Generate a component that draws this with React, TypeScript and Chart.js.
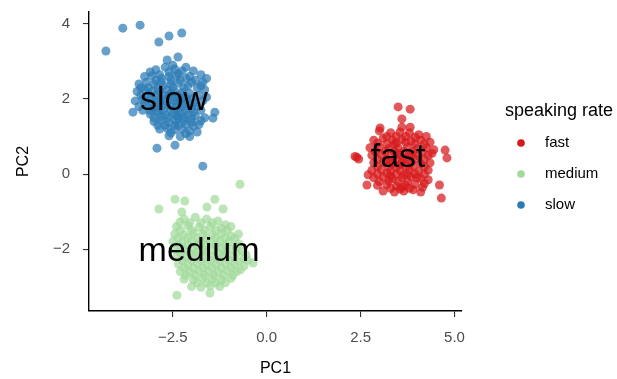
import { useEffect, useRef } from "react";
import { Chart, registerables } from "chart.js";

Chart.register(...registerables);

const categories = ["fast", "medium", "slow"];
const seriesColors = ["#d7191c", "#a1d99b", "#2c7bb6"];
const pointColors = ["rgba(215,25,28,0.72)", "rgba(161,217,155,0.72)", "rgba(44,123,182,0.72)"];

const xTicks = [-2.5, 0, 2.5, 5];
const yTicks = [-2, 0, 2, 4];

const labelNames = ["slow", "fast", "medium"];
const labelX = [-2.47, 3.5, -1.8];
const labelY = [1.97, 0.45, -2.08];

const fastPoints: [number, number][] = [
  [3.0, 1.15], [3.3, 1.1], [3.55, 1.12], [3.8, 1.1], [4.05, 1.05], [4.25, 1.0],
  [2.85, 0.9], [3.1, 0.95], [3.35, 0.9], [3.6, 0.92], [3.85, 0.88], [4.1, 0.9], [4.35, 0.85],
  [2.75, 0.7], [3.0, 0.72], [3.25, 0.68], [3.5, 0.7], [3.75, 0.72], [4.0, 0.68], [4.25, 0.7], [4.45, 0.65],
  [2.8, 0.5], [3.05, 0.52], [3.3, 0.48], [3.55, 0.5], [3.8, 0.52], [4.05, 0.48], [4.3, 0.5],
  [2.85, 0.3], [3.1, 0.32], [3.35, 0.28], [3.6, 0.3], [3.85, 0.32], [4.1, 0.28], [4.35, 0.3],
  [2.8, 0.1], [3.05, 0.12], [3.3, 0.08], [3.55, 0.1], [3.8, 0.12], [4.05, 0.08], [4.3, 0.1],
  [2.85, -0.1], [3.1, -0.08], [3.35, -0.12], [3.6, -0.1], [3.85, -0.08], [4.1, -0.12], [4.3, -0.15],
  [2.95, -0.3], [3.2, -0.28], [3.45, -0.32], [3.7, -0.3], [3.95, -0.28], [4.15, -0.35],
  [3.1, -0.45], [3.4, -0.48], [3.65, -0.45], [3.9, -0.42],
  [3.45, 0.4], [3.65, 0.6], [3.25, 0.2], [3.75, 0.0], [3.5, -0.2], [3.95, 0.4], [3.15, 0.6], [3.7, 0.85],
  [3.4, 0.8], [3.2, 0.4], [3.9, 0.2], [3.55, 0.25], [3.3, -0.05], [4.0, -0.1], [3.6, -0.35],
  [3.2, 1.0], [3.45, 1.0], [3.7, 1.0], [3.95, 0.98], [2.95, 0.82], [3.2, 0.8], [3.45, 0.82], [3.95, 0.8],
  [4.2, 0.8], [2.9, 0.6], [3.4, 0.6], [3.9, 0.6], [4.15, 0.6], [4.4, 0.55], [2.95, 0.4], [3.65, 0.42],
  [3.75, 0.38], [4.2, 0.4], [2.95, 0.2], [3.45, 0.18], [3.7, 0.2], [4.2, 0.2], [2.95, 0.0], [3.2, 0.02],
  [3.45, 0.0], [3.65, -0.02], [3.95, 0.0], [4.2, 0.0], [3.0, -0.2], [3.25, -0.18], [3.75, -0.2], [4.2, -0.25],
  [3.3, -0.38], [3.55, -0.4], [3.8, -0.38], [3.5, 0.55], [3.3, 0.35], [3.85, 0.5],
  [3.5, 1.79], [3.82, 1.73], [3.6, 1.47], [3.6, 1.25], [3.02, 1.23], [3.82, 1.25],
  [2.4, 0.45], [2.45, 0.4], [2.35, 0.47], [4.75, 0.64], [4.8, 0.43], [4.6, -0.29],
  [4.1, -0.48], [4.65, -0.64], [2.7, -0.02], [2.67, -0.29],
];

const mediumPoints: [number, number][] = [
  [-2.2, -1.2], [-1.9, -1.15], [-1.6, -1.2], [-1.3, -1.25],
  [-2.4, -1.4], [-2.1, -1.38], [-1.8, -1.42], [-1.5, -1.4], [-1.2, -1.45], [-0.95, -1.4],
  [-2.45, -1.6], [-2.2, -1.62], [-1.95, -1.58], [-1.7, -1.6], [-1.45, -1.62], [-1.2, -1.58], [-0.95, -1.65], [-0.75, -1.6],
  [-2.5, -1.8], [-2.25, -1.82], [-2.0, -1.78], [-1.75, -1.8], [-1.5, -1.82], [-1.25, -1.78], [-1.0, -1.8], [-0.75, -1.85],
  [-2.45, -2.0], [-2.2, -2.02], [-1.95, -1.98], [-1.7, -2.0], [-1.45, -2.02], [-1.2, -1.98], [-0.95, -2.0], [-0.65, -2.05],
  [-2.4, -2.2], [-2.15, -2.22], [-1.9, -2.18], [-1.65, -2.2], [-1.4, -2.22], [-1.15, -2.18], [-0.9, -2.2], [-0.6, -2.25],
  [-2.35, -2.4], [-2.1, -2.42], [-1.85, -2.38], [-1.6, -2.4], [-1.35, -2.42], [-1.1, -2.38], [-0.85, -2.4], [-0.6, -2.45],
  [-2.3, -2.6], [-2.05, -2.62], [-1.8, -2.58], [-1.55, -2.6], [-1.3, -2.62], [-1.05, -2.58], [-0.8, -2.6],
  [-2.2, -2.8], [-1.95, -2.82], [-1.7, -2.78], [-1.45, -2.8], [-1.2, -2.82], [-0.95, -2.78],
  [-2.0, -3.0], [-1.75, -3.02], [-1.5, -2.98], [-1.25, -3.0],
  [-1.5, -2.3], [-1.3, -2.1], [-1.7, -2.5], [-1.2, -2.5], [-1.6, -1.9], [-1.4, -2.7], [-1.0, -2.3], [-1.85, -2.1],
  [-2.05, -1.3], [-1.75, -1.3], [-1.45, -1.3], [-1.1, -1.35], [-2.3, -1.5], [-2.0, -1.5], [-1.65, -1.5], [-1.35, -1.5],
  [-1.05, -1.5], [-2.35, -1.7], [-2.1, -1.7], [-1.85, -1.7], [-1.6, -1.72], [-1.35, -1.7], [-1.1, -1.7], [-0.85, -1.72],
  [-2.35, -1.9], [-2.1, -1.9], [-1.85, -1.9], [-1.35, -1.9], [-1.1, -1.9], [-0.8, -1.95], [-2.3, -2.1], [-2.05, -2.1],
  [-1.6, -2.1], [-1.1, -2.1], [-0.8, -2.1], [-2.25, -2.3], [-2.0, -2.3], [-1.75, -2.3], [-1.25, -2.3], [-0.75, -2.32],
  [-2.2, -2.5], [-1.95, -2.5], [-1.45, -2.5], [-0.95, -2.5], [-0.7, -2.55], [-2.15, -2.7], [-1.9, -2.7], [-1.65, -2.7],
  [-1.15, -2.7], [-0.9, -2.7], [-1.85, -2.9], [-1.6, -2.9], [-1.35, -2.9], [-1.1, -2.9], [-0.5, -2.3], [-0.55, -2.15],
  [-0.71, -0.27], [-2.87, -0.93], [-2.44, -0.67], [-2.18, -0.72], [-1.38, -0.67], [-1.59, -0.88],
  [-1.16, -0.93], [-2.26, -1.01], [-2.39, -3.23], [-1.51, -3.17], [-0.36, -2.37], [-2.31, -1.28],
];

const slowPoints: [number, number][] = [
  [-2.95, 2.78], [-2.7, 2.85], [-2.45, 2.8], [-2.25, 2.75], [-2.05, 2.6],
  [-3.25, 2.6], [-3.05, 2.62], [-2.85, 2.65], [-2.6, 2.6], [-2.4, 2.62], [-2.15, 2.55], [-1.9, 2.5], [-1.7, 2.45],
  [-3.4, 2.4], [-3.2, 2.45], [-3.0, 2.4], [-2.8, 2.45], [-2.55, 2.4], [-2.35, 2.42], [-2.1, 2.35], [-1.85, 2.3], [-1.65, 2.25],
  [-3.45, 2.2], [-3.25, 2.25], [-3.05, 2.2], [-2.85, 2.2], [-2.65, 2.25], [-2.45, 2.2], [-2.25, 2.18], [-2.05, 2.15], [-1.8, 2.1], [-1.6, 2.05],
  [-3.5, 1.95], [-3.3, 2.0], [-3.1, 2.02], [-2.9, 1.98], [-2.7, 2.0], [-2.5, 2.05], [-2.3, 1.98], [-2.1, 1.95], [-1.9, 1.9],
  [-3.4, 1.8], [-3.2, 1.82], [-3.0, 1.78], [-2.8, 1.8], [-2.6, 1.82], [-2.4, 1.78], [-2.2, 1.8], [-2.0, 1.75], [-1.75, 1.7],
  [-3.1, 1.6], [-2.9, 1.62], [-2.7, 1.58], [-2.5, 1.6], [-2.3, 1.62], [-2.1, 1.58], [-1.9, 1.55], [-1.65, 1.5],
  [-3.0, 1.4], [-2.8, 1.42], [-2.6, 1.38], [-2.4, 1.4], [-2.2, 1.42], [-2.0, 1.38], [-1.8, 1.32],
  [-2.85, 1.2], [-2.65, 1.22], [-2.45, 1.18], [-2.25, 1.2], [-2.05, 1.15], [-1.85, 1.12],
  [-2.6, 1.02], [-2.3, 1.0], [-2.05, 1.0],
  [-2.6, 2.1], [-2.4, 1.9], [-2.75, 1.7], [-2.2, 2.3], [-2.55, 2.5], [-2.35, 1.5], [-2.9, 2.3], [-2.15, 1.7], [-2.45, 1.3], [-2.3, 2.0],
  [-2.15, 2.85], [-1.95, 2.75], [-1.75, 2.65], [-1.6, 2.55],
  [-3.15, 2.3], [-2.95, 2.5], [-2.75, 2.35], [-2.5, 2.3], [-2.3, 2.5], [-2.0, 2.45], [-1.75, 2.35], [-3.35, 2.1],
  [-3.15, 2.12], [-2.95, 2.1], [-2.75, 2.1], [-2.55, 2.15], [-2.35, 2.1], [-2.15, 2.05], [-1.95, 2.02], [-1.7, 1.95],
  [-3.25, 1.9], [-3.05, 1.9], [-2.85, 1.9], [-2.65, 1.92], [-2.45, 1.95], [-2.25, 1.88], [-2.05, 1.85], [-1.85, 1.8],
  [-3.3, 1.7], [-3.1, 1.7], [-2.9, 1.7], [-2.55, 1.72], [-2.35, 1.68], [-1.95, 1.65], [-3.0, 1.5], [-2.8, 1.52],
  [-2.6, 1.5], [-2.4, 1.55], [-2.2, 1.5], [-2.0, 1.48], [-1.75, 1.42], [-2.9, 1.3], [-2.7, 1.3], [-2.35, 1.3],
  [-2.15, 1.32], [-1.95, 1.28], [-2.55, 1.1], [-2.15, 1.08], [-2.8, 2.55], [-2.6, 2.72], [-2.35, 2.68], [-2.5, 2.9],
  [-3.1, 2.72], [-3.35, 2.3],
  [-3.83, 3.89], [-3.37, 3.97], [-4.28, 3.28], [-2.87, 3.52], [-2.6, 3.68], [-2.26, 3.76], [-2.65, 3.04],
  [-2.36, 3.12], [-2.92, 0.69], [-2.44, 0.77], [-1.7, 0.21], [-3.56, 1.65], [-1.38, 1.65], [-1.43, 1.49],
];

const allPoints = [fastPoints, mediumPoints, slowPoints];

const FONT = "'Liberation Sans', Arial, sans-serif";

function fmt(v: number, digits: number) {
  return v.toFixed(digits).replace("-", "\u2212");
}

export default function App() {
  const ref = useRef<HTMLCanvasElement | null>(null);

  useEffect(() => {
    if (!ref.current) return;

    const labelsPlugin = {
      id: "clusterLabels",
      afterDatasetsDraw(chart: any) {
        const { ctx, scales } = chart;
        ctx.save();
        ctx.font = `34px ${FONT}`;
        ctx.fillStyle = "#000";
        ctx.textAlign = "center";
        ctx.textBaseline = "middle";
        labelNames.forEach((name, i) => {
          ctx.fillText(name, scales.x.getPixelForValue(labelX[i]), scales.y.getPixelForValue(labelY[i]));
        });
        ctx.restore();
      },
    };

    const legendPlugin = {
      id: "customLegend",
      afterDraw(chart: any) {
        const { ctx } = chart;
        ctx.save();
        ctx.textBaseline = "middle";
        ctx.textAlign = "left";
        ctx.fillStyle = "#000";
        ctx.font = `18px ${FONT}`;
        ctx.fillText("speaking rate", 505, 111);
        ctx.font = `15px ${FONT}`;
        categories.forEach((c, i) => {
          const y = 143 + i * 31;
          ctx.beginPath();
          ctx.arc(521, y, 3.8, 0, Math.PI * 2);
          ctx.fillStyle = seriesColors[i];
          ctx.fill();
          ctx.fillStyle = "#000";
          ctx.fillText(c, 545, y);
        });
        ctx.restore();
      },
    };

    const chart = new Chart(ref.current, {
      type: "scatter",
      data: {
        datasets: categories.map((c, i) => ({
          label: c,
          data: allPoints[i].map(([x, y]) => ({ x, y })),
          backgroundColor: pointColors[i],
          borderWidth: 0,
          pointRadius: 4.5,
        })),
      },
      options: {
        responsive: false,
        animation: false,
        layout: { padding: { top: 12, right: 155, left: 0, bottom: 0 } },
        plugins: { legend: { display: false }, tooltip: { enabled: false } },
        scales: {
          x: {
            type: "linear",
            min: -4.73,
            max: 5.2,
            afterBuildTicks: (s: any) => {
              s.ticks = xTicks.map((v) => ({ value: v }));
            },
            afterFit: (s: any) => {
              s.height = 68;
              s.paddingLeft = 0;
              s.paddingRight = 0;
            },
            ticks: {
              color: "#4d4d4d",
              font: { family: FONT, size: 15 },
              padding: 12,
              maxRotation: 0,
              callback: (v: any) => fmt(Number(v), 1),
            },
            grid: { display: true, drawOnChartArea: false, drawTicks: true, tickLength: 6, color: "#333", lineWidth: 1.1 },
            border: { display: true, color: "#000", width: 1.4 },
            title: { display: true, text: "PC1", color: "#000", font: { family: FONT, size: 16 }, padding: { top: 0, bottom: 1 } },
          },
          y: {
            type: "linear",
            min: -3.65,
            max: 4.32,
            afterBuildTicks: (s: any) => {
              s.ticks = yTicks.map((v) => ({ value: v }));
            },
            afterFit: (s: any) => {
              s.width = 89;
              s.paddingTop = 0;
              s.paddingBottom = 0;
            },
            ticks: {
              color: "#4d4d4d",
              font: { family: FONT, size: 15 },
              padding: 13,
              callback: (v: any) => fmt(Number(v), 0),
            },
            grid: { display: true, drawOnChartArea: false, drawTicks: true, tickLength: 6, color: "#333", lineWidth: 1.1 },
            border: { display: true, color: "#000", width: 1.4 },
            title: { display: true, text: "PC2", color: "#000", font: { family: FONT, size: 16 }, padding: { top: 14, bottom: 0 } },
          },
        },
      },
      plugins: [labelsPlugin, legendPlugin],
    } as any);

    return () => chart.destroy();
  }, []);

  return (
    <div style={{ position: "fixed", left: 0, top: 0, width: 617, height: 379, background: "#fff" }}>
      <canvas ref={ref} width={617} height={379} style={{ width: 617, height: 379, display: "block" }} />
    </div>
  );
}
